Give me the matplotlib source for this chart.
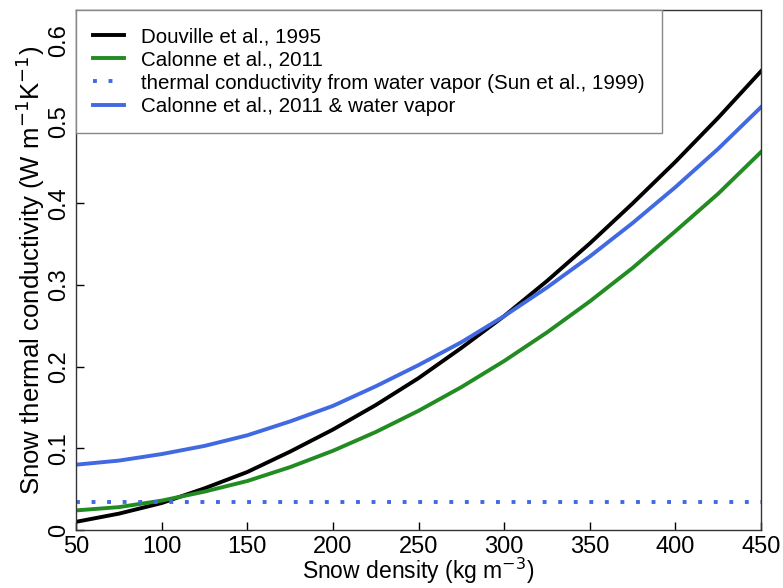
import numpy as np
import matplotlib
matplotlib.use("Agg")
import matplotlib.pyplot as plt

plt.rcParams['font.family'] = ['Liberation Sans', 'DejaVu Sans']

# snow density (kg m-3), read every 25 units
density = [50, 75, 100, 125, 150, 175, 200, 225, 250, 275, 300,
           325, 350, 375, 400, 425, 450]

# Douville et al., 1995
k_douville = [0.010, 0.020, 0.033, 0.051, 0.071, 0.096, 0.123, 0.153, 0.186,
              0.223, 0.262, 0.305, 0.351, 0.400, 0.451, 0.505, 0.562]
# Calonne et al., 2011
k_calonne = [0.024, 0.028, 0.036, 0.047, 0.060, 0.077, 0.097, 0.120, 0.146,
             0.175, 0.207, 0.242, 0.280, 0.321, 0.366, 0.412, 0.463]
# Calonne et al., 2011 & water vapor
k_calonne_vap = [0.080, 0.085, 0.093, 0.103, 0.116, 0.133, 0.152, 0.176, 0.202,
                 0.230, 0.262, 0.297, 0.335, 0.376, 0.420, 0.467, 0.518]
# water vapour contribution (Sun et al., 1999), constant
k_vapor = 0.034

labels = ["Douville et al., 1995",
          "Calonne et al., 2011",
          "thermal conductivity from water vapor (Sun et al., 1999)",
          "Calonne et al., 2011 & water vapor"]

fig = plt.figure(figsize=(7.83, 5.88), dpi=100)
ax = fig.add_axes([76/783, 1-530/588, 685/783, 520/588])

lw = 2.8
ax.plot(density, k_douville, color="black", lw=lw, label=labels[0])
ax.plot(density, k_calonne, color="#228B22", lw=lw, label=labels[1])
ax.plot(density, [k_vapor]*len(density), color="#4169E1", lw=lw,
        linestyle=(0, (1, 3)), dash_capstyle="butt", label=labels[2])
ax.plot(density, k_calonne_vap, color="#4169E1", lw=lw, label=labels[3])

ax.set_xlim(50, 450)
ax.set_ylim(0, 0.637)
ax.set_xticks(np.arange(50, 451, 50))
ax.set_yticks([0, 0.1, 0.2, 0.3, 0.4, 0.5, 0.6])
ax.set_yticklabels(["0", "0.1", "0.2", "0.3", "0.4", "0.5", "0.6"],
                   rotation=90, va="center")
ax.tick_params(direction="in", length=6, width=1, labelsize=17, pad=4)
for s in ax.spines.values():
    s.set_linewidth(1)
    s.set_color("#333333")

ax.set_xlabel("Snow density (kg m$^{-3}$)", fontsize=16.5, labelpad=-1)
ax.set_ylabel("Snow thermal conductivity (W m$^{-1}$K$^{-1}$)", fontsize=18.5, labelpad=1)

leg = ax.legend(loc="upper left", bbox_to_anchor=(0, 1), borderaxespad=0,
                fontsize=14.8, frameon=True, fancybox=False, handlelength=1.5,
                handletextpad=0.8, labelspacing=0.2, borderpad=0.85)
leg.get_frame().set_edgecolor("#888888")
leg.get_frame().set_linewidth(1)
leg.get_frame().set_alpha(1)

fig.savefig("out.png", dpi=100)
